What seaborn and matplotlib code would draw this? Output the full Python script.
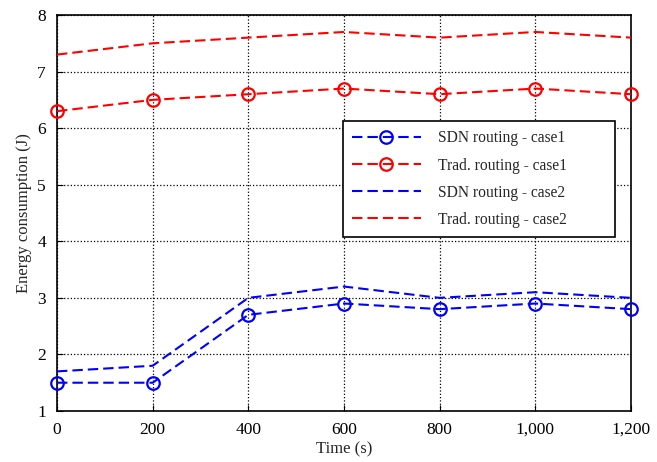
import matplotlib
matplotlib.use("Agg")
import matplotlib.pyplot as plt
import seaborn as sns
import pandas as pd
from matplotlib.ticker import FuncFormatter

time = [0, 200, 400, 600, 800, 1000, 1200]
sdn_case1 = [1.5, 1.5, 2.7, 2.9, 2.8, 2.9, 2.8]
trad_case1 = [6.3, 6.5, 6.6, 6.7, 6.6, 6.7, 6.6]
sdn_case2 = [1.7, 1.8, 3.0, 3.2, 3.0, 3.1, 3.0]
trad_case2 = [7.3, 7.5, 7.6, 7.7, 7.6, 7.7, 7.6]
labels = ["SDN routing - case1", "Trad. routing - case1",
          "SDN routing - case2", "Trad. routing - case2"]

sns.set_style("ticks")
plt.rcParams['font.family'] = ['Liberation Serif', 'DejaVu Serif']

fig = plt.figure(figsize=(6.57, 4.62), dpi=100)
ax = fig.add_axes([57/657, 1 - 411/462, 574/657, 396/462])

series = [sdn_case1, trad_case1, sdn_case2, trad_case2]
colors = ["#0000ff", "#ff0000", "#0000ff", "#ff0000"]
markers = ["o", "o", None, None]
for vals, lab, c, m in zip(series, labels, colors, markers):
    df = pd.DataFrame({"t": time, "v": vals})
    kw = {}
    if m:
        kw = dict(marker="o", markersize=9, markerfacecolor="none",
                  markeredgecolor=c, markeredgewidth=1.6)
    sns.lineplot(data=df, x="t", y="v", ax=ax, color=c, label=lab,
                 linestyle=(0, (5, 2.4)), linewidth=1.5, clip_on=False,
                 zorder=3, **kw)

ax.set_xlim(0, 1200)
ax.set_ylim(1, 8)
ax.set_xticks(time)
ax.set_yticks(range(1, 9))
ax.xaxis.set_major_formatter(FuncFormatter(lambda x, p: f"{int(x):,}"))
ax.grid(True, color="black", linestyle=":", linewidth=0.9)
ax.tick_params(direction="in", labelsize=12.5, length=4, colors="black", pad=8)
for s in ax.spines.values():
    s.set_color("black")
    s.set_linewidth(1.2)
ax.set_xlabel("Time (s)", fontsize=12, labelpad=2.5)
ax.set_ylabel("Energy consumption (J)", fontsize=12, labelpad=4)

leg = ax.legend(loc="upper left", bbox_to_anchor=(0.498, 0.732, 0.474, 0.0),
                mode="expand", fontsize=11.2,
                frameon=True, fancybox=False, edgecolor="black",
                handlelength=4.4, borderpad=0.6, labelspacing=0.71,
                handletextpad=1.1, borderaxespad=0)
leg.get_frame().set_linewidth(1.2)
leg.get_frame().set_alpha(1)
leg.set_zorder(5)

fig.savefig("out.png", dpi=100)
